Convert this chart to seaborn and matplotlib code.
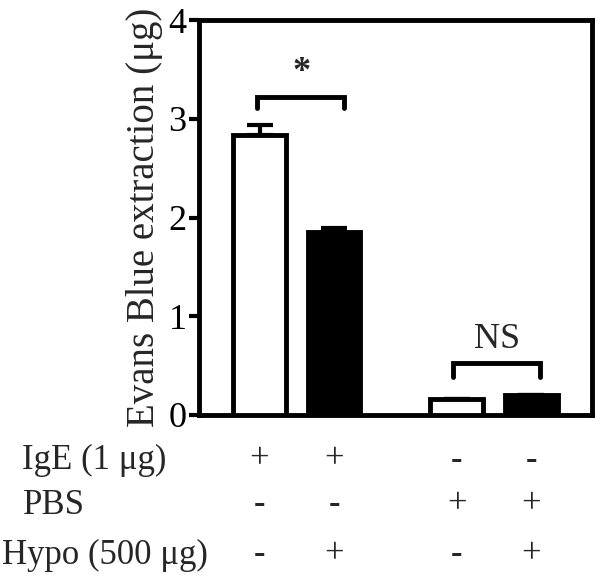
import matplotlib
matplotlib.use("Agg")
import matplotlib.pyplot as plt
import matplotlib.transforms as mtransforms
import seaborn as sns
import pandas as pd
import numpy as np

# ---- data ----
groups = ["IgE", "IgE+Hypo", "PBS", "PBS+Hypo"]
positions = [0.0, 1.0, 2.65, 3.65]
values = [2.84, 1.85, 0.16, 0.20]
errors = [0.10, 0.04, 0.0, 0.0]
treatment = ["ctrl", "hypo", "ctrl", "hypo"]
row_labels = ["IgE (1 \u03bcg)", "PBS", "Hypo (500 \u03bcg)"]
row_signs = [["+", "+", "-", "-"],
             ["-", "-", "+", "+"],
             ["-", "+", "-", "+"]]
y_ticks = [0, 1, 2, 3, 4]
y_label = "Evans Blue extraction (\u03bcg)"

df = pd.DataFrame({"pos": positions, "value": values, "treatment": treatment})

sns.set_style("ticks")
plt.rcParams["font.family"] = ["Liberation Serif", "DejaVu Serif"]

fig = plt.figure(figsize=(6.01, 5.80), dpi=100)
ax = fig.add_axes([0.3303, 0.2845, 0.985 - 0.3303, 0.9655 - 0.2845])

sns.barplot(data=df, x="pos", y="value", hue="treatment",
            palette={"ctrl": "white", "hypo": "black"},
            native_scale=True, width=0.71, dodge=False,
            edgecolor="black", linewidth=3.5, errorbar=None,
            legend=False, ax=ax, zorder=3)

ax.errorbar(positions, values, yerr=[np.zeros(len(errors)), errors],
            fmt="none", ecolor="black", elinewidth=3, capsize=9.5,
            capthick=3, zorder=2)

ax.set_xlim(-0.819, 4.463)
ax.set_ylim(0, 4)
ax.set_yticks(y_ticks)
ax.set_yticklabels([str(t) for t in y_ticks])
ax.set_xticks([])
ax.set_xlabel("")
ax.set_ylabel(y_label, fontsize=28, labelpad=4)

for s in ax.spines.values():
    s.set_visible(True)
    s.set_linewidth(3.5)
    s.set_color("black")
ax.tick_params(axis="y", direction="out", length=7, width=3, pad=1.5,
               labelsize=26, colors="black")

# significance brackets
def bracket(x0, x1, ytop, yleg):
    ax.plot([x0, x0, x1, x1], [yleg, ytop, ytop, yleg], color="black",
            lw=3.5, solid_capstyle="round", solid_joinstyle="miter",
            clip_on=False, zorder=4)

bracket(-0.034, 1.131, 3.22, 3.11)
bracket(2.597, 3.765, 0.527, 0.385)
ax.text(0.57, 3.47, "*", ha="center", va="center", fontsize=26,
        fontweight="bold")
ax.text(3.19, 0.76, "NS", ha="center", va="center", fontsize=26)

# bottom treatment table
trans = mtransforms.blended_transform_factory(ax.transData, fig.transFigure)
row_y_px = [460, 505, 555]
label_x_px = [22, 23, 2]
for r, (lab, ypx, xpx) in enumerate(zip(row_labels, row_y_px, label_x_px)):
    yf = 1 - ypx / 580
    fig.text(xpx / 601, yf, lab, ha="left", va="center", fontsize=25)
    for c, sgn in enumerate(row_signs[r]):
        ax.text(positions[c], yf, sgn, transform=trans, ha="center",
                va="center", fontsize=25, clip_on=False,
                fontweight="bold" if sgn == "-" else "normal")

fig.savefig("out.png", dpi=100)
